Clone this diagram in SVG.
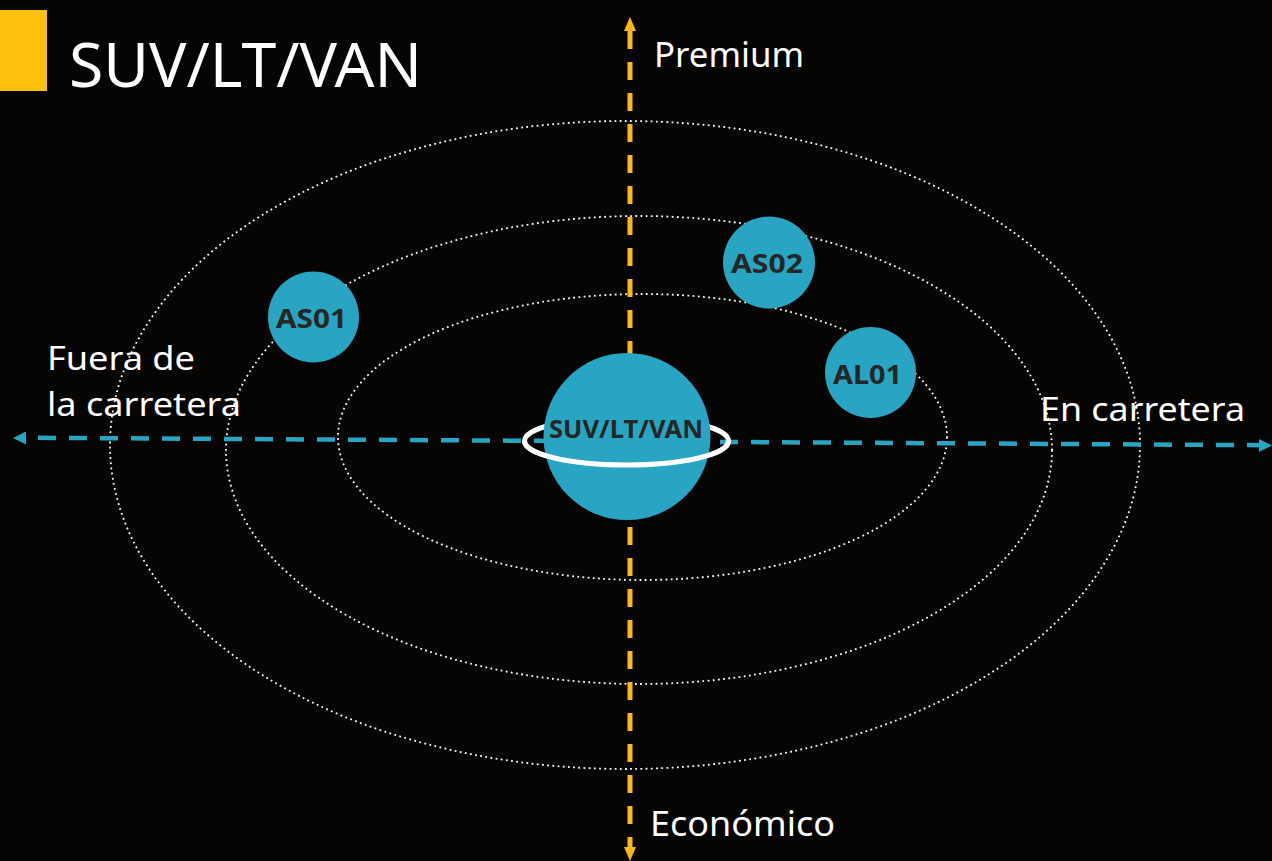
<svg xmlns="http://www.w3.org/2000/svg" width="1272" height="861" viewBox="0 0 1272 861">
  <style>
    .orbit { fill: none; stroke: #ffffff; stroke-width: 1.8; stroke-dasharray: 1.8 3.4; }
    .lbl { font-family: "Noto Sans", "Open Sans", "Liberation Sans", sans-serif; fill: #ffffff; }
    .node { fill: #27A5C2; }
    .ntext { font-family: "Noto Sans", "Liberation Sans", sans-serif; font-weight: bold; fill: #262626; text-anchor: middle; }
    .hax { stroke: #27A5C2; stroke-width: 4.5; stroke-dasharray: 18 13; fill: none; }
    .vax { stroke: #FBB917; stroke-width: 5; stroke-dasharray: 18 13; fill: none; }
  </style>
  <rect x="0" y="0" width="1272" height="861" fill="#070404"/>

  <g id="title">
    <rect x="0" y="10" width="47" height="81" fill="#FCC10F"/>
    <text class="lbl" x="69" y="87" font-size="62" textLength="353" lengthAdjust="spacingAndGlyphs">SUV/LT/VAN</text>
  </g>

  <g id="orbits">
    <ellipse class="orbit" cx="625" cy="445" rx="515" ry="324"/>
    <ellipse class="orbit" cx="639" cy="450" rx="413" ry="234"/>
    <ellipse class="orbit" cx="642.5" cy="437" rx="304.5" ry="143"/>
  </g>

  <g id="connectors">
    <line class="hax" x1="38" y1="437.8" x2="1262" y2="445.2"/>
    <path d="M13,438 L26,431.5 L26,444.5 Z" fill="#27A5C2"/>
    <path d="M1272,445.5 L1259,439 L1259,452 Z" fill="#27A5C2"/>
    <line class="vax" x1="630" y1="29" x2="630" y2="849" stroke-dashoffset="-2"/>
    <path d="M630,17 L624,31 L636,31 Z" fill="#FBB917"/>
    <path d="M630,861 L624,847 L636,847 Z" fill="#FBB917"/>
  </g>

  <g id="axis-labels">
    <text class="lbl" x="654" y="67" font-size="34" textLength="150" lengthAdjust="spacingAndGlyphs">Premium</text>
    <text class="lbl" x="650" y="836" font-size="34" textLength="185" lengthAdjust="spacingAndGlyphs">Económico</text>
    <text class="lbl" x="47" y="370" font-size="33" textLength="148" lengthAdjust="spacingAndGlyphs">Fuera de</text>
    <text class="lbl" x="47" y="416" font-size="33" textLength="194" lengthAdjust="spacingAndGlyphs">la carretera</text>
    <text class="lbl" x="1040" y="421" font-size="33" textLength="205" lengthAdjust="spacingAndGlyphs">En carretera</text>
  </g>

  <g id="center-node">
    <ellipse cx="626.5" cy="441" rx="102" ry="24" fill="none" stroke="#ffffff" stroke-width="5"/>
    <circle class="node" cx="627" cy="436.5" r="83.5"/>
    <path d="M524.5,441 A102,24 0 0 0 728.5,441" fill="none" stroke="#ffffff" stroke-width="5"/>
    <text class="ntext" x="626" y="437.5" font-size="25" textLength="154" lengthAdjust="spacingAndGlyphs">SUV/LT/VAN</text>
  </g>

  <g id="node-AS01">
    <circle class="node" cx="313.5" cy="317" r="45.5"/>
    <text class="ntext" x="311.5" y="328" font-size="27" textLength="71" lengthAdjust="spacingAndGlyphs">AS01</text>
  </g>
  <g id="node-AS02">
    <circle class="node" cx="769" cy="262.5" r="46"/>
    <text class="ntext" x="767" y="273" font-size="27" textLength="72" lengthAdjust="spacingAndGlyphs">AS02</text>
  </g>
  <g id="node-AL01">
    <circle class="node" cx="870.5" cy="372.5" r="45.5"/>
    <text class="ntext" x="867.5" y="384" font-size="27" textLength="69" lengthAdjust="spacingAndGlyphs">AL01</text>
  </g>
</svg>
